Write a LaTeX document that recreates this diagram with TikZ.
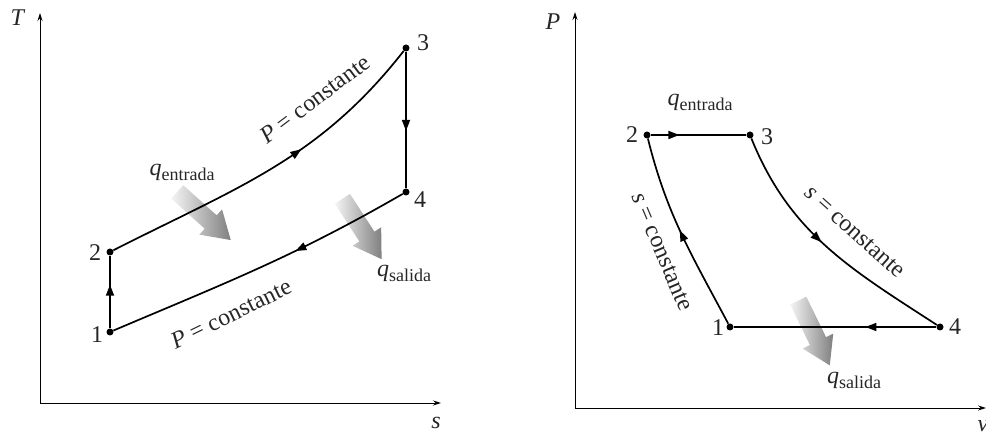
\documentclass[tikz,border=0pt]{standalone}
\usepackage{fontspec}
\setmainfont{Liberation Serif}
\usetikzlibrary{arrows.meta,decorations.markings}

\newcommand{\heat}[1]{\textit{q}\raisebox{-0.45ex}{\fontsize{18}{18}\selectfont #1}}
% fat shaded arrow: centre x, centre y, direction
\newcommand{\heatarrow}[3]{%
  \shade[heatshade, shift={(#1,#2)}, rotate=#3]
    (-36,-9) -- (9,-9) -- (9,-17) -- (36,0) -- (9,17) -- (9,9) -- (-36,9) -- cycle;}

\tikzset{
  axis/.style={-{Stealth[length=8pt,width=5pt]}, line width=0.9pt},
  process/.style={line width=1.7pt},
  statept/.style={circle, fill, inner sep=0pt, minimum size=7pt},
  midarrow/.style={postaction={decorate}, decoration={markings,
      mark=at position #1 with {\arrow{Triangle[length=11pt,width=8pt]}}}},
  heatshade/.style={left color=black!4, right color=black!50},
  every node/.style={font=\fontsize{24}{28}\selectfont, text=black!85}
}

\begin{document}
\begin{tikzpicture}[x=1pt,y=1pt]
    \useasboundingbox (0,0) rectangle (986,435);

    % T-s axes
    \coordinate (tsO) at (40,32);
    \coordinate (tsT) at (40,422);
    \coordinate (tsS) at (441,32);
    \draw[axis] (tsO) -- (tsT);
    \draw[axis] (tsO) -- (tsS);
    \node (lblT) at (18,417) {\textit{T}};
    \node (lbls) at (436,12) {\textit{s}};

    % Heat arrows (T-s)
    \heatarrow{204}{219}{-42}
    \heatarrow{362}{206}{-57}
    \node (qinLlbl) at (182,263) {\heat{entrada}};
    \node (qoutLlbl) at (404,162) {\heat{salida}};

    % States (T-s)
    \node[statept] (l1) at (110,103) {};
    \node[statept] (l2) at (110,183) {};
    \node[statept] (l3) at (406,387) {};
    \node[statept] (l4) at (406,243) {};
    \node (l1lbl) at (97,100) {1};
    \node (l2lbl) at (95,182) {2};
    \node (l3lbl) at (423,392) {3};
    \node (l4lbl) at (420,235) {4};

    % Processes (T-s)
    \draw[process, midarrow=0.6] (l1) -- (l2);
    \draw[process, midarrow=0.6] (l2) to[out=27,in=232] (l3);
    \draw[process, midarrow=0.58] (l3) -- (l4);
    \draw[process, midarrow=0.38] (l4) to[out=210,in=23] (l1);
    \node[rotate=37] (lblPhigh) at (315,336) {\textit{P} = constante};
    \node[rotate=26] (lblPlow) at (231,121) {\textit{P} = constante};

    % P-v axes
    \coordinate (pvO) at (575,27);
    \coordinate (pvP) at (575,423);
    \coordinate (pvV) at (986,27);
    \draw[axis] (pvO) -- (pvP);
    \draw[axis] (pvO) -- (pvV);
    \node (lblP) at (553,413) {\textit{P}};
    \node (lblv) at (983,9) {\textit{v}};

    % Heat arrow (P-v)
    \heatarrow{814}{102}{-64}
    \node (qinRlbl) at (700,333) {\heat{entrada}};
    \node (qoutRlbl) at (854,55) {\heat{salida}};

    % States (P-v)
    \node[statept] (r1) at (730,108) {};
    \node[statept] (r2) at (647,300) {};
    \node[statept] (r3) at (750,300) {};
    \node[statept] (r4) at (940,108) {};
    \node (r1lbl) at (718,107) {1};
    \node (r2lbl) at (632,300) {2};
    \node (r3lbl) at (767,298) {3};
    \node (r4lbl) at (955,108) {4};

    % Processes (P-v)
    \draw[process, midarrow=0.52] (r1) to[out=118,in=-76] (r2);
    \draw[process, midarrow=0.3] (r2) -- (r3);
    \draw[process, midarrow=0.47] (r3) to[out=-68,in=147] (r4);
    \draw[process, midarrow=0.35] (r4) -- (r1);
    \node[rotate=-67] (lblsleft) at (662,183) {\textit{s} = constante};
    \node[rotate=-42] (lblsright) at (855,203) {\textit{s} = constante};
\end{tikzpicture}
\end{document}
